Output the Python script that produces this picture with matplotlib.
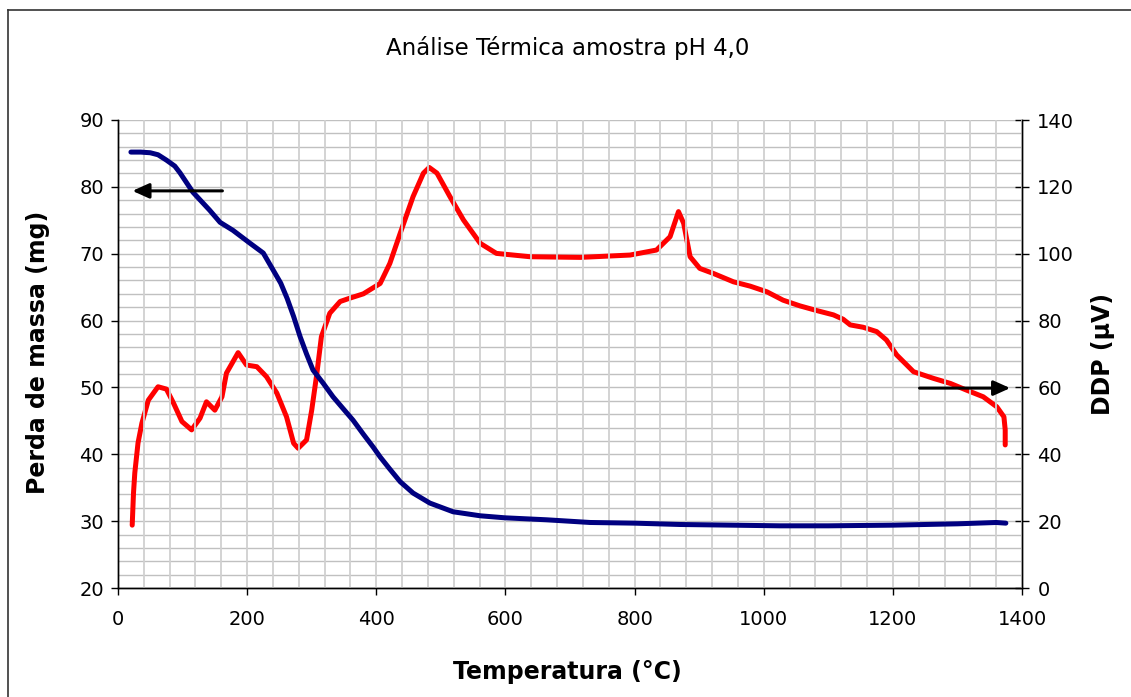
import matplotlib
matplotlib.use("Agg")
import matplotlib.pyplot as plt
from matplotlib.lines import Line2D
from matplotlib.ticker import MultipleLocator

# perda de massa (eixo esquerdo)
temp_mass = [20, 35, 50, 62, 75, 88, 96, 116, 142, 158, 178, 204, 225, 240, 252,
             262, 272, 282, 292, 302, 318, 333, 348, 364, 380, 395, 406, 420,
             437, 457, 483, 519, 561, 599, 664, 731, 800, 870, 950, 1025, 1100,
             1200, 1300, 1360, 1375]
mass = [85.2, 85.2, 85.1, 84.8, 84.0, 83.1, 82.1, 79.2, 76.5, 74.7, 73.5, 71.6,
        70.1, 67.6, 65.6, 63.3, 60.6, 57.6, 55.0, 52.6, 50.6, 48.6, 46.9, 45.1,
        43.0, 41.1, 39.6, 37.9, 35.9, 34.2, 32.7, 31.4, 30.8, 30.5, 30.2, 29.8,
        29.7, 29.5, 29.4, 29.3, 29.3, 29.4, 29.6, 29.8, 29.7]

# DDP (eixo direito)
temp_ddp = [22, 24, 26, 31, 37, 47, 62, 75, 86, 99, 114, 127, 137, 150, 161,
            168, 186, 199, 215, 230, 246, 261, 272, 279, 292, 300, 308, 315,
            328, 344, 359, 380, 406, 421, 437, 457, 473, 482, 494, 514, 535,
            561, 586, 638, 716, 793, 834, 855, 868, 876, 886, 901, 922, 953,
            979, 1005, 1030, 1056, 1082, 1108, 1123, 1134, 1154, 1175, 1190,
            1206, 1232, 1263, 1289, 1314, 1340, 1361, 1372, 1374, 1374]
ddp = [18.8, 28.4, 34.4, 43.4, 49.3, 56.2, 60.2, 59.5, 55.3, 49.8, 47.3, 50.8,
       55.7, 53.2, 57.2, 64.3, 70.4, 66.7, 66.2, 63.2, 58.3, 51.2, 43.3, 41.8,
       44.3, 53.2, 64.2, 75.2, 82.2, 85.7, 86.7, 88.0, 91.1, 97.1, 106.1,
       117.1, 124.1, 125.8, 124.1, 117.1, 110.1, 103.1, 100.1, 99.1, 98.9,
       99.6, 101.1, 105.1, 112.6, 109.1, 99.1, 95.6, 94.1, 91.6, 90.3, 88.6,
       86.1, 84.4, 83.0, 81.7, 80.4, 78.7, 78.0, 76.7, 74.2, 69.7, 64.7, 62.7,
       61.2, 59.2, 57.2, 54.2, 51.2, 47.3, 42.8]

W, H = 1131, 697
fig = plt.figure(figsize=(W / 100, H / 100), dpi=100)
ax = fig.add_axes([118 / W, 1 - 588 / H, 904 / W, 468 / H])
ax2 = ax.twinx()

# grade e curva vermelha no eixo de tras
ax2.plot(temp_ddp, ddp, color="#ff0000", lw=3.6, solid_capstyle="round")
ax2.set_ylim(0, 140)
ax2.yaxis.set_major_locator(MultipleLocator(20))
ax2.yaxis.set_minor_locator(MultipleLocator(4))
ax2.xaxis.set_minor_locator(MultipleLocator(40))
ax2.grid(True, which="both", axis="y", color="#c0c0c0", lw=1.0)
ax.grid(True, which="both", axis="x", color="#d0d0d0", lw=1.3)
ax.set_axisbelow(True)

ax.set_zorder(ax2.get_zorder() + 1)
ax.patch.set_visible(False)
ax.plot(temp_mass, mass, color="#000080", lw=3.6, solid_capstyle="round")
ax.set_xlim(0, 1400)
ax.set_ylim(20, 90)
ax.xaxis.set_major_locator(MultipleLocator(200))
ax.xaxis.set_minor_locator(MultipleLocator(40))
ax.yaxis.set_major_locator(MultipleLocator(10))

for a in (ax, ax2):
    a.spines["top"].set_visible(False)
    for s in a.spines.values():
        s.set_linewidth(1.0)
    a.tick_params(which="minor", length=0)

ax.tick_params(axis="y", direction="out", length=5, width=1, labelsize=14, pad=5)
ax.tick_params(axis="x", direction="out", length=5, width=1, labelsize=14, pad=11)
ax2.tick_params(axis="y", direction="inout", length=10, width=1, labelsize=14, pad=6)

# setas indicando os eixos
ax.annotate("", xy=(18, 79.4), xytext=(166, 79.4),
            arrowprops=dict(arrowstyle="-|>,head_length=1.0,head_width=0.45",
                            color="black", lw=2.2))
ax.annotate("", xy=(1386, 49.9), xytext=(1237, 49.9),
            arrowprops=dict(arrowstyle="-|>,head_length=1.0,head_width=0.45",
                            color="black", lw=2.2))

fig.text(568 / W, 1 - 48 / H, "Análise Térmica amostra pH 4,0",
         ha="center", va="center", fontsize=16.5)
fig.text(567 / W, 1 - 672 / H, "Temperatura (°C)", ha="center", va="center",
         fontsize=17, fontweight="bold")
fig.text(38 / W, 1 - 352 / H, "Perda de massa (mg)", ha="center", va="center",
         rotation=90, fontsize=17, fontweight="bold")
fig.text(1103 / W, 1 - 354 / H, "DDP (µV)", ha="center", va="center",
         rotation=90, fontsize=17, fontweight="bold")

# moldura externa
fig.add_artist(Line2D([8 / W, 8 / W], [0, 1 - 10 / H], color="#333333",
                      lw=1.2, transform=fig.transFigure))
fig.add_artist(Line2D([8 / W, 1], [1 - 10 / H, 1 - 10 / H], color="#333333",
                      lw=1.2, transform=fig.transFigure))

fig.savefig("out.png", dpi=100)
